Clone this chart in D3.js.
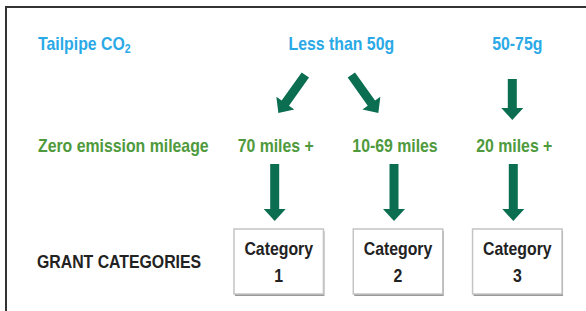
<!DOCTYPE html>
<html lang="en">
<head>
  <meta charset="utf-8">
  <title>Grant categories</title>
  <script src="https://d3js.org/d3.v7.min.js"></script>
  <style>
    body { margin: 0; background: #fff; }
    text { font-family: "Liberation Sans", Arial, sans-serif; font-weight: bold; }
  </style>
</head>
<body>
  <script>
    // data
    const rowLabels = ["Tailpipe CO", "Zero emission mileage", "GRANT CATEGORIES"];
    const co2Bands = ["Less than 50g", "50-75g"];
    const mileage = ["70 miles +", "10-69 miles", "20 miles +"];
    const categories = ["1", "2", "3"];
    // which co2 band leads to which mileage column
    const co2ToMileage = [[0, 0], [0, 1], [1, 2]];

    // config
    const width = 586, height = 311;
    const blue = "#2aa9e6", green = "#4e9a3c", arrowCol = "#0b6e50";
    const squeeze = 0.88; // fake a narrow font

    const svg = d3.select("body").append("svg")
      .attr("width", width).attr("height", height);

    // frame
    svg.append("path")
      .attr("d", `M6,${height} V7 H${width}`)
      .attr("fill", "none").attr("stroke", "#333").attr("stroke-width", 2);

    const x = d3.scaleBand().domain(categories).range([228, 568])
      .paddingInner(0.25).paddingOuter(0.05);
    const cx = i => x(categories[i]) + x.bandwidth() / 2;
    const co2X = i => i === 0 ? (cx(0) + cx(1)) / 2 : cx(2);

    const y = { co2: 50, mile: 152, box: 229, boxH: 65 };

    // text placed by transform so it can be squeezed
    function label(sel, tx, ty) {
      return sel.attr("transform", `translate(${tx},${ty}) scale(${squeeze},1)`);
    }

    // row labels
    const tail = label(svg.append("text"), 38, y.co2)
      .attr("fill", blue).attr("font-size", 18);
    tail.append("tspan").text(rowLabels[0]);
    tail.append("tspan").attr("font-size", 12).attr("dy", 3).text("2");

    label(svg.append("text"), 38, y.mile)
      .attr("fill", green).attr("font-size", 18).text(rowLabels[1]);
    label(svg.append("text"), 37, 268)
      .attr("fill", "#222").attr("font-size", 18).text(rowLabels[2]);

    // co2 bands
    svg.selectAll("text.co2").data(co2Bands).join("text").attr("class", "co2")
      .each(function (d, i) { label(d3.select(this), co2X(i) + (i === 0 ? 3 : 0), y.co2); })
      .attr("text-anchor", "middle").attr("fill", blue).attr("font-size", 18)
      .text(d => d);

    // mileage
    svg.selectAll("text.mile").data(mileage).join("text").attr("class", "mile")
      .each(function (d, i) { label(d3.select(this), cx(i) - 3, y.mile); })
      .attr("text-anchor", "middle").attr("fill", green).attr("font-size", 18)
      .text(d => d);

    // arrow polygon from (x1,y1) to (x2,y2)
    function arrow(x1, y1, x2, y2) {
      const len = Math.hypot(x2 - x1, y2 - y1);
      const sw = 4.5, hw = 11, hl = 12;
      const pts = [[0, -sw], [len - hl, -sw], [len - hl, -hw], [len, 0],
        [len - hl, hw], [len - hl, sw], [0, sw]];
      const a = Math.atan2(y2 - y1, x2 - x1);
      return "M" + pts.map(([u, v]) => [
        x1 + u * Math.cos(a) - v * Math.sin(a),
        y1 + u * Math.sin(a) + v * Math.cos(a)
      ].join(",")).join("L") + "Z";
    }

    // co2 -> mileage arrows
    svg.selectAll("path.a1").data(co2ToMileage).join("path").attr("class", "a1")
      .attr("fill", arrowCol)
      .attr("d", ([b, m]) => {
        const sx = co2X(b), ex = cx(m);
        if (Math.abs(sx - ex) < 1) return arrow(sx - 5, 79, sx - 5, 120);
        const dir = Math.sign(ex - sx), mid = sx - 10;
        return arrow(mid + dir * 23, 75, mid + dir * 50, 113);
      });

    // mileage -> category arrows
    svg.selectAll("path.a2").data(categories).join("path").attr("class", "a2")
      .attr("fill", arrowCol)
      .attr("d", (d, i) => arrow(cx(i) - 4, 164, cx(i) - 4, 221));

    // category boxes
    const box = svg.selectAll("g.box").data(categories).join("g").attr("class", "box")
      .attr("transform", d => `translate(${x(d)},${y.box})`);
    box.append("rect").attr("x", 1).attr("y", 2)
      .attr("width", x.bandwidth()).attr("height", y.boxH)
      .attr("fill", "#999");
    box.append("rect")
      .attr("width", x.bandwidth()).attr("height", y.boxH)
      .attr("fill", "#fff").attr("stroke", "#c4c4c4").attr("stroke-width", 1.5);
    box.append("text")
      .each(function () { label(d3.select(this), x.bandwidth() / 2, 26); })
      .attr("text-anchor", "middle").attr("fill", "#222").attr("font-size", 18)
      .text("Category");
    box.append("text")
      .each(function () { label(d3.select(this), x.bandwidth() / 2, 53); })
      .attr("text-anchor", "middle").attr("fill", "#222").attr("font-size", 18)
      .text(d => d);
  </script>
</body>
</html>
